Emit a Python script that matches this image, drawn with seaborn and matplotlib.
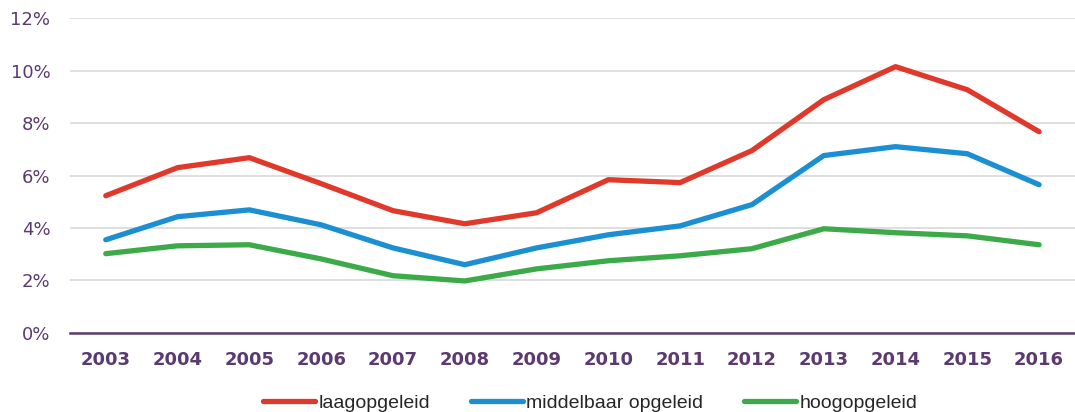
import matplotlib
matplotlib.use("Agg")
import matplotlib.pyplot as plt
import seaborn as sns
import pandas as pd
from matplotlib.ticker import FuncFormatter

years = [2003, 2004, 2005, 2006, 2007, 2008, 2009, 2010, 2011, 2012, 2013, 2014, 2015, 2016]
laag = [5.23, 6.30, 6.68, 5.69, 4.66, 4.16, 4.58, 5.84, 5.73, 6.95, 8.89, 10.15, 9.27, 7.67]
middel = [3.55, 4.43, 4.69, 4.12, 3.24, 2.60, 3.24, 3.74, 4.08, 4.89, 6.76, 7.10, 6.83, 5.65]
hoog = [3.02, 3.32, 3.36, 2.82, 2.18, 1.98, 2.44, 2.75, 2.94, 3.21, 3.97, 3.82, 3.70, 3.36]
series_names = ["laagopgeleid", "middelbaar opgeleid", "hoogopgeleid"]
colors = ["#e0392b", "#1b8fd2", "#3caa48"]

rows = []
for name, vals in zip(series_names, [laag, middel, hoog]):
    for i, v in enumerate(vals):
        rows.append({"idx": i, "jaar": str(years[i]), "waarde": v, "groep": name})
df = pd.DataFrame(rows)

sns.set_theme(style="white")
plt.rcParams['font.family'] = ['DejaVu Sans']
purple = "#5b3a70"

fig = plt.figure(figsize=(10.75, 4.12), dpi=100)
ax = fig.add_axes([0.065, 0.192, 0.935, 0.764])
sns.lineplot(data=df, x="idx", y="waarde", hue="groep", hue_order=series_names,
             palette=colors, linewidth=3.8, ax=ax, legend=True,
             solid_capstyle="round", solid_joinstyle="round")

ax.set_xlim(-0.5, len(years) - 0.5)
ax.set_ylim(0, 12)
ax.set_yticks([0, 2, 4, 6, 8, 10, 12])
ax.yaxis.set_major_formatter(FuncFormatter(lambda v, p: f"{int(v)}%"))
ax.set_xticks(range(len(years)))
ax.set_xticklabels([str(y) for y in years])
ax.grid(axis="y", color="#d9d9d9", linewidth=1.2)
ax.set_axisbelow(True)
for s in ["top", "right", "left"]:
    ax.spines[s].set_visible(False)
ax.spines["bottom"].set_color(purple)
ax.spines["bottom"].set_linewidth(1.8)
ax.tick_params(axis="y", length=0, pad=14, labelsize=13, labelcolor=purple)
ax.tick_params(axis="x", length=0, pad=13, labelsize=13, labelcolor=purple)
for t in ax.get_xticklabels():
    t.set_fontweight("bold")
ax.set_xlabel("")
ax.set_ylabel("")

handles, labels = ax.get_legend_handles_labels()
ax.get_legend().remove()
leg = fig.legend(handles, labels, loc="center", bbox_to_anchor=(590 / 1075, 9 / 412),
                 ncol=3, frameon=False, prop={"family": "Liberation Sans", "size": 14},
                 handlelength=2.7, handletextpad=0.15, columnspacing=2.1, borderaxespad=0)
for h in leg.get_lines():
    h.set_linewidth(3.8)
    h.set_solid_capstyle("round")

fig.savefig("out.png", dpi=100)
